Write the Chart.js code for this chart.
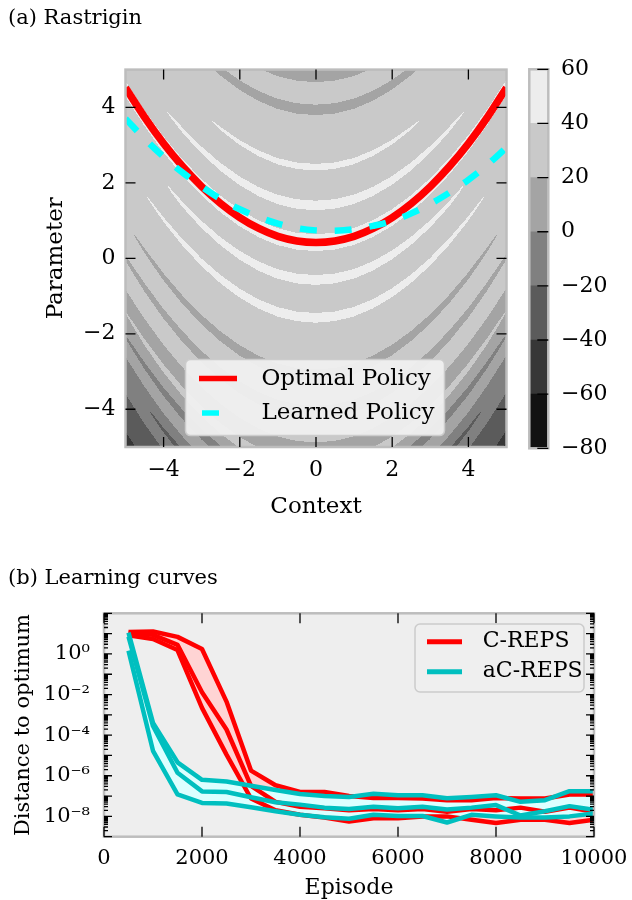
<!DOCTYPE html>
<html>
<head>
<meta charset="utf-8">
<script src="https://cdn.jsdelivr.net/npm/chart.js@4.4.1/dist/chart.umd.min.js"></script>
<style>
  html, body { margin: 0; padding: 0; background: #fff; }
  #page { position: relative; width: 632px; height: 900px; overflow: hidden; font-family: 'DejaVu Serif', serif; }
  canvas { position: absolute; }
  .caption { position: absolute; left: 8px; font-size: 21px; line-height: 21px; white-space: nowrap; color: #000; }
</style>
</head>
<body>
<div id="page">
  <canvas id="rastrigin" width="520" height="540" style="left:0; top:0"></canvas>
  <canvas id="colorbar" width="112" height="540" style="left:520px; top:0"></canvas>
  <canvas id="curves" width="632" height="360" style="left:0; top:540px"></canvas>
  <div class="caption" style="top:7px">(a) Rastrigin</div>
  <div class="caption" style="top:567px">(b) Learning curves</div>
</div>
<script>
// ---------- (a) Rastrigin ----------
const contexts = [-5, -4.5, -4, -3.5, -3, -2.5, -2, -1.5, -1, -0.5, 0, 0.5, 1, 1.5, 2, 2.5, 3, 3.5, 4, 4.5, 5];
const optimalPolicy = [4.52, 3.74, 3.04, 2.43, 1.90, 1.45, 1.08, 0.79, 0.58, 0.46, 0.42, 0.46, 0.58, 0.79, 1.08, 1.45, 1.90, 2.43, 3.04, 3.74, 4.52];
const learnedPolicy = [3.70, 3.17, 2.69, 2.27, 1.90, 1.57, 1.30, 1.09, 0.92, 0.80, 0.74, 0.73, 0.77, 0.86, 0.99, 1.19, 1.44, 1.74, 2.08, 2.48, 2.94];
const axisTicks = [-4, -2, 0, 2, 4];
const contourLevels = [-80, -60, -40, -20, 0, 20, 40, 60];
const levelGreys = ['#121212', '#373737', '#5b5b5b', '#808080', '#a4a4a4', '#c9c9c9', '#ededed'];
// mean reward against the offset from the optimal parameter
const offsetKnots = [-9.5, -9, -8, -7, -6, -5.5, -5, -4, -3, -2, -1, 0, 1, 2, 2.5, 3, 3.5, 4, 4.5, 5.5];
const meanReward = [-58, -42, -23, -2, 14, 21, 26, 24, 28, 33.5, 32.6, 40, 32.6, 31.3, 32.5, 29, 27, 22, 19, 14];
const rippleAmplitude = 10;
const rippleFade = 7.5;   // context at which the ripple would vanish

// ---------- (b) Learning curves ----------
const episodes = [500, 1000, 1500, 2000, 2500, 3000, 3500, 4000, 4500, 5000, 5500, 6000, 6500, 7000, 7500, 8000, 8500, 9000, 9500, 10000];
const crepsUpper = [12, 12.6, 6.9, 1.74, 4.5e-3, 1.8e-6, 3.4e-7, 1.6e-7, 1.6e-7, 1.0e-7, 8.1e-8, 8.1e-8, 7.6e-8, 6.3e-8, 6.3e-8, 8.1e-8, 7.6e-8, 7.6e-8, 1.2e-7, 1.2e-7];
const crepsMean = [10, 8.7, 2.8, 1.3e-2, 1.9e-4, 3.2e-7, 5.2e-8, 3.0e-8, 2.5e-8, 2.0e-8, 2.3e-8, 2.0e-8, 2.3e-8, 1.7e-8, 2.3e-8, 2.0e-8, 2.7e-8, 1.7e-8, 2.7e-8, 1.7e-8];
const crepsLower = [8.3, 5.4, 1.55, 2.2e-3, 1.1e-5, 7.6e-8, 2.0e-8, 1.2e-8, 8.7e-9, 5.6e-9, 8.1e-9, 8.1e-9, 1.0e-8, 1.0e-8, 6.8e-9, 4.7e-9, 6.8e-9, 6.8e-9, 4.7e-9, 6.8e-9];
const acrepsUpper = [11.2, 4.0e-4, 4.6e-6, 6.3e-7, 5.2e-7, 3.2e-7, 2.0e-7, 1.26e-7, 1.02e-7, 9.1e-8, 1.3e-7, 1.1e-7, 1.1e-7, 7.9e-8, 9.1e-8, 1.1e-7, 5.2e-8, 6.3e-8, 1.74e-7, 1.74e-7];
const acrepsMean = [7.1, 2.8e-4, 1.4e-6, 1.7e-7, 1.6e-7, 8.7e-8, 5.0e-8, 3.8e-8, 2.7e-8, 2.3e-8, 3.0e-8, 2.5e-8, 3.0e-8, 2.2e-8, 2.7e-8, 3.6e-8, 1.1e-8, 1.8e-8, 3.2e-8, 2.1e-8];
const acrepsLower = [1.45, 1.7e-5, 1.2e-7, 4.6e-8, 4.3e-8, 2.8e-8, 1.8e-8, 1.2e-8, 9.1e-9, 7.6e-9, 1.2e-8, 1.05e-8, 1.05e-8, 5.0e-9, 1.2e-8, 1.0e-8, 8.7e-9, 8.7e-9, 1.0e-8, 1.4e-8];
const episodeTicks = [0, 2000, 4000, 6000, 8000, 10000];
const labelledDecades = [0, -2, -4, -6, -8];

Chart.defaults.font.family = "'DejaVu Serif', serif";
Chart.defaults.color = '#000';

// piecewise linear lookup in a pair of arrays
function lookup(xs, ys, v) {
  if (v <= xs[0]) return ys[0];
  for (let i = 1; i < xs.length; i++) {
    if (v <= xs[i]) {
      const t = (v - xs[i - 1]) / (xs[i] - xs[i - 1]);
      return ys[i - 1] * (1 - t) + ys[i] * t;
    }
  }
  return ys[ys.length - 1];
}
// Rastrigin ripple around the optimal policy
function reward(c, x) {
  const d = x - lookup(contexts, optimalPolicy, c);
  const amp = rippleAmplitude * Math.max(0, 1 - (c * c) / (rippleFade * rippleFade));
  return lookup(offsetKnots, meanReward, d) + amp * Math.cos(2 * Math.PI * d);
}
function bandOf(v) {
  for (let i = 0; i < levelGreys.length; i++) {
    if (v < contourLevels[i + 1]) return i;
  }
  return levelGreys.length - 1;
}

const minus = v => (v < 0 ? '\u2212' + (-v) : String(v));
const pts = (xs, ys) => xs.map((x, i) => ({ x: x, y: ys[i] }));

function roundRect(ctx, x, y, w, h, r) {
  ctx.beginPath();
  ctx.moveTo(x + r, y);
  ctx.arcTo(x + w, y, x + w, y + h, r);
  ctx.arcTo(x + w, y + h, x, y + h, r);
  ctx.arcTo(x, y + h, x, y, r);
  ctx.arcTo(x, y, x + w, y, r);
  ctx.closePath();
}

// frame + ticks pointing into the axes
function frameTicks(sides, tickLen) {
  return {
    id: 'frameTicks',
    afterDatasetsDraw(chart) {
      const { ctx, chartArea: a } = chart;
      ctx.save();
      ctx.strokeStyle = '#bdbdbd';
      ctx.lineWidth = 2.5;
      ctx.strokeRect(a.left, a.top, a.right - a.left, a.bottom - a.top);
      ctx.strokeStyle = '#000';
      ctx.lineWidth = 1.3;
      ctx.beginPath();
      sides.forEach(id => {
        const s = chart.scales[id];
        s.ticks.forEach((t, i) => {
          const len = tickLen(t.value, id);
          const p = s.getPixelForTick(i);
          if (s.isHorizontal()) {
            ctx.moveTo(p, a.top); ctx.lineTo(p, a.top + len);
            ctx.moveTo(p, a.bottom); ctx.lineTo(p, a.bottom - len);
          } else if (s.position === 'right') {
            ctx.moveTo(a.right, p); ctx.lineTo(a.right - len, p);
          } else {
            ctx.moveTo(a.left, p); ctx.lineTo(a.left + len, p);
            ctx.moveTo(a.right, p); ctx.lineTo(a.right - len, p);
          }
        });
      });
      ctx.stroke();
      ctx.restore();
    }
  };
}

const contourPlugin = {
  id: 'contour',
  beforeDraw(chart) {
    const { ctx, chartArea: a, scales: { x, y } } = chart;
    const nx = Math.round(a.right - a.left);
    const ny = Math.round(a.bottom - a.top);
    const dx = (x.max - x.min) / nx, dy = (y.max - y.min) / ny;
    ctx.save();
    for (let i = 0; i < nx; i++) {
      const c = x.min + (i + 0.5) * dx;
      const x0 = Math.floor(x.getPixelForValue(x.min + i * dx));
      const x1 = Math.ceil(x.getPixelForValue(x.min + (i + 1) * dx));
      let start = 0;
      let band = bandOf(reward(c, y.min + 0.5 * dy));
      for (let j = 1; j <= ny; j++) {
        const next = j < ny ? bandOf(reward(c, y.min + (j + 0.5) * dy)) : -1;
        if (next !== band) {
          const yLow = Math.ceil(y.getPixelForValue(y.min + start * dy));
          const yHigh = Math.floor(y.getPixelForValue(y.min + j * dy));
          ctx.fillStyle = levelGreys[band];
          ctx.fillRect(x0, yHigh, x1 - x0, yLow - yHigh);
          start = j;
          band = next;
        }
      }
    }
    ctx.restore();
  }
};

const policyLegend = {
  id: 'policyLegend',
  afterDraw(chart) {
    const { ctx, chartArea: a } = chart;
    const bx = a.left + 60, by = a.top + 290, bw = 259, bh = 76;
    ctx.save();
    roundRect(ctx, bx, by, bw, bh, 5);
    ctx.fillStyle = 'rgba(240,240,240,0.95)';
    ctx.fill();
    ctx.strokeStyle = '#cccccc';
    ctx.lineWidth = 1.5;
    ctx.stroke();
    const items = [chart.data.datasets[1], chart.data.datasets[0]];
    items.forEach((ds, k) => {
      const yy = by + 19 + k * 34.4;
      ctx.strokeStyle = ds.borderColor;
      ctx.lineWidth = 5.5;
      ctx.lineCap = 'butt';
      ctx.beginPath();
      if (ds.borderDash) {
        ctx.moveTo(bx + 16.5, yy); ctx.lineTo(bx + 16.5 + ds.borderDash[0], yy);
      } else {
        ctx.moveTo(bx + 13.5, yy); ctx.lineTo(bx + 51.5, yy);
      }
      ctx.stroke();
      ctx.fillStyle = '#000';
      ctx.font = "23px 'DejaVu Serif'";
      ctx.textBaseline = 'middle';
      ctx.fillText(ds.label, bx + 76, yy);
    });
    ctx.restore();
  }
};

new Chart(document.getElementById('rastrigin'), {
  type: 'line',
  data: {
    datasets: [
      { label: 'Learned Policy', data: pts(contexts, learnedPolicy), borderColor: '#00ffff', borderWidth: 6.5,
        borderDash: [17, 18], borderCapStyle: 'butt', pointRadius: 0, tension: 0.4, fill: false, order: 0 },
      { label: 'Optimal Policy', data: pts(contexts, optimalPolicy), borderColor: '#ff0000', borderWidth: 7.5,
        pointRadius: 0, tension: 0.4, fill: false, order: 1 }
    ]
  },
  options: {
    responsive: false, animation: false, events: [],
    layout: { padding: { top: 69.6, right: 13.5, bottom: 0, left: 0 } },
    plugins: { legend: { display: false }, tooltip: { enabled: false } },
    scales: {
      x: {
        type: 'linear', min: -5, max: 5,
        afterBuildTicks: s => { s.ticks = axisTicks.map(v => ({ value: v })); },
        afterFit: s => { s.height = 540 - 447; s.paddingLeft = 0; s.paddingRight = 0; },
        grid: { display: false, drawTicks: false }, border: { display: false },
        ticks: { padding: 10, font: { size: 22 }, callback: minus, maxRotation: 0 },
        title: { display: true, text: 'Context', font: { size: 23 }, padding: { bottom: 19 } }
      },
      y: {
        type: 'linear', min: -5, max: 5,
        afterBuildTicks: s => { s.ticks = axisTicks.map(v => ({ value: v })); },
        afterFit: s => { s.width = 125.5; s.paddingTop = 0; s.paddingBottom = 0; },
        grid: { display: false, drawTicks: false }, border: { display: false },
        ticks: { padding: 10, font: { size: 22 }, callback: minus },
        title: { display: true, text: 'Parameter', font: { size: 23 }, padding: { top: 42 } }
      }
    }
  },
  plugins: [contourPlugin, frameTicks(['x', 'y'], () => 10), policyLegend]
});

// colour bar of the contour levels
new Chart(document.getElementById('colorbar'), {
  type: 'bar',
  data: {
    labels: [''],
    datasets: levelGreys.map((g, i) => ({
      data: [[contourLevels[i], contourLevels[i + 1]]], backgroundColor: g, borderWidth: 0,
      barPercentage: 1, categoryPercentage: 1, grouped: false
    }))
  },
  options: {
    responsive: false, animation: false, events: [],
    layout: { padding: { top: 69.3, right: 0, bottom: 91.7, left: 9.3 } },
    plugins: { legend: { display: false }, tooltip: { enabled: false } },
    scales: {
      x: { display: false },
      y: {
        position: 'right', min: -80, max: 60,
        afterBuildTicks: s => { s.ticks = contourLevels.map(v => ({ value: v })); },
        afterFit: s => { s.width = 112 - 28.3; s.paddingTop = 0; s.paddingBottom = 0; },
        grid: { display: false, drawTicks: false }, border: { display: false },
        ticks: { padding: 12.7, font: { size: 22 }, callback: minus }
      }
    }
  },
  plugins: [frameTicks(['y'], () => 11)]
});

// ---------- learning curves ----------
const logTicks = [];
for (let e = -9; e < 2; e++) {
  for (let m = 1; m < 10; m++) logTicks.push(m * Math.pow(10, e));
}
logTicks.push(100);
const isDecade = v => Math.abs(v / Math.pow(10, Math.round(Math.log10(v))) - 1) < 1e-6;
const sup = { '-': '\u207B', '0': '\u2070', '2': '\u00B2', '4': '\u2074', '6': '\u2076', '8': '\u2078' };
function decadeLabel(v) {
  if (!isDecade(v)) return '';
  const e = Math.round(Math.log10(v));
  if (!labelledDecades.includes(e)) return '';
  return '10' + String(e).split('').map(ch => sup[ch]).join('');
}

const plotBackground = {
  id: 'plotBackground',
  beforeDraw(chart) {
    const { ctx, chartArea: a } = chart;
    ctx.save();
    ctx.fillStyle = '#eeeeee';
    ctx.fillRect(a.left, a.top, a.right - a.left, a.bottom - a.top);
    ctx.restore();
  }
};

const curveLegend = {
  id: 'curveLegend',
  afterDraw(chart) {
    const { ctx, chartArea: a } = chart;
    const bx = a.right - 179, by = a.top + 10.7, bw = 169, bh = 68;
    ctx.save();
    roundRect(ctx, bx, by, bw, bh, 5);
    ctx.fillStyle = 'rgba(238,238,238,0.9)';
    ctx.fill();
    ctx.strokeStyle = '#cccccc';
    ctx.lineWidth = 1.5;
    ctx.stroke();
    [chart.data.datasets[0], chart.data.datasets[3]].forEach((ds, k) => {
      const yy = by + 17.7 + k * 30;
      ctx.strokeStyle = ds.borderColor;
      ctx.lineWidth = 5;
      ctx.beginPath();
      ctx.moveTo(bx + 12, yy); ctx.lineTo(bx + 47, yy);
      ctx.stroke();
      ctx.fillStyle = '#000';
      ctx.font = "22px 'DejaVu Serif'";
      ctx.textBaseline = 'middle';
      ctx.fillText(ds.label, bx + 67.7, yy);
    });
    ctx.restore();
  }
};

function curve(label, ys, color, order, fillColor) {
  return {
    label: label, data: pts(episodes, ys), borderColor: color, borderWidth: 4.5,
    borderJoinStyle: 'round', pointRadius: 0, tension: 0, order: order,
    fill: fillColor ? '+2' : false, backgroundColor: fillColor || color
  };
}

new Chart(document.getElementById('curves'), {
  type: 'line',
  data: {
    datasets: [
      curve('C-REPS', crepsUpper, '#ff0000', 1, '#ffd4d4'),
      curve('C-REPS mean', crepsMean, '#ff0000', 1),
      curve('C-REPS lower', crepsLower, '#ff0000', 1),
      curve('aC-REPS', acrepsUpper, '#00bfbf', 0, '#dcffff'),
      curve('aC-REPS mean', acrepsMean, '#00bfbf', 0),
      curve('aC-REPS lower', acrepsLower, '#00bfbf', 0)
    ]
  },
  options: {
    responsive: false, animation: false, events: [],
    layout: { padding: { top: 73.3, right: 38, bottom: 0, left: 0 } },
    plugins: { legend: { display: false }, tooltip: { enabled: false }, filler: { drawTime: 'beforeDatasetsDraw' } },
    scales: {
      x: {
        type: 'linear', min: 0, max: 10000,
        afterBuildTicks: s => { s.ticks = episodeTicks.map(v => ({ value: v })); },
        afterFit: s => { s.height = 360 - 296.7; s.paddingLeft = 0; s.paddingRight = 0; },
        grid: { display: false, drawTicks: false }, border: { display: false },
        ticks: { padding: 9, font: { size: 21 }, callback: v => String(v), maxRotation: 0 },
        title: { display: true, text: 'Episode', font: { size: 22, lineHeight: 1 }, padding: { bottom: 1 } }
      },
      y: {
        type: 'logarithmic', min: 1e-9, max: 1e2,
        afterBuildTicks: s => { s.ticks = logTicks.map(v => ({ value: v })); },
        afterFit: s => { s.width = 104; s.paddingTop = 0; s.paddingBottom = 0; },
        grid: { display: false, drawTicks: false }, border: { display: false },
        ticks: { autoSkip: false, padding: 14, font: { size: 21 }, callback: decadeLabel },
        title: { display: true, text: 'Distance to optimum', font: { size: 21 }, padding: { top: 11.4 } }
      }
    }
  },
  plugins: [plotBackground, frameTicks(['x', 'y'], (v, id) => (id === 'y' ? (isDecade(v) ? 8 : 4) : 10)), curveLegend]
});
</script>
</body>
</html>
